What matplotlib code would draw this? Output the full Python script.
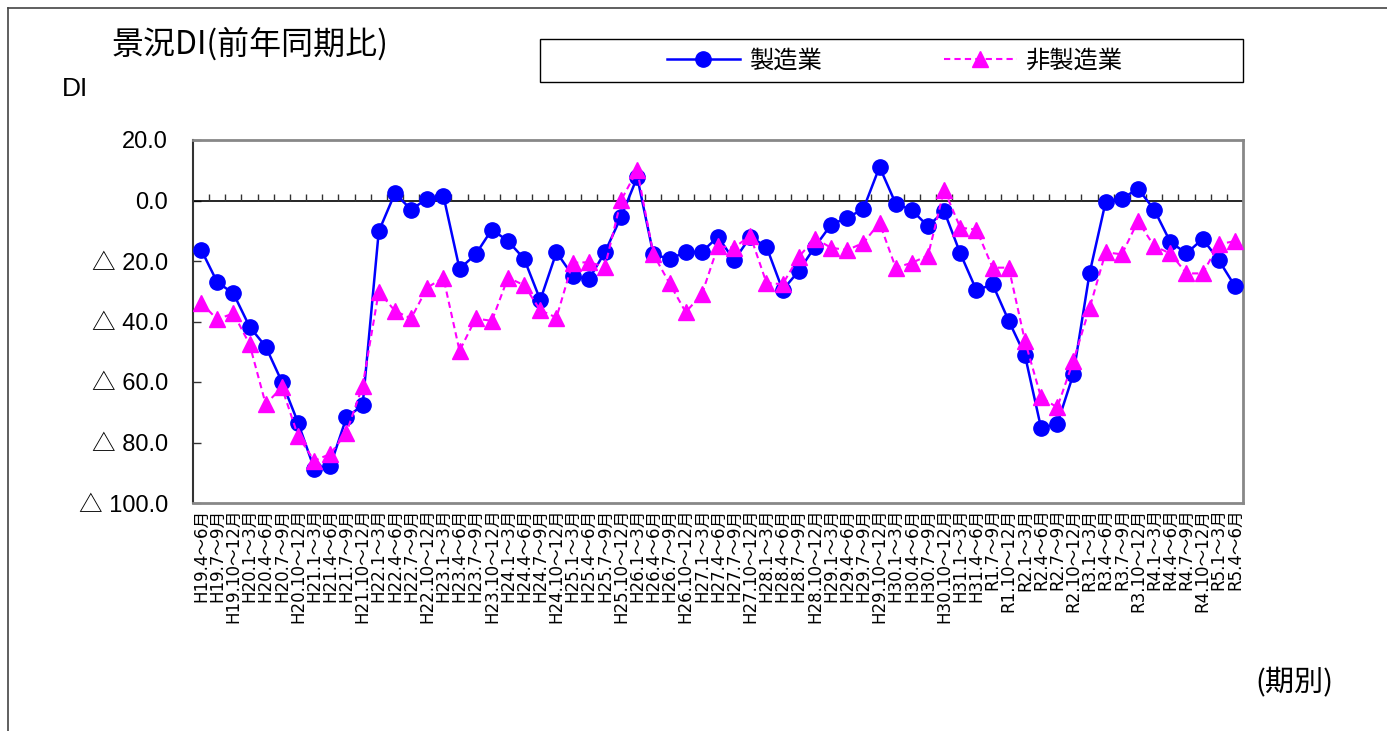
import matplotlib
matplotlib.use("Agg")
import matplotlib.pyplot as plt
from matplotlib.lines import Line2D
from matplotlib.patches import Rectangle
from matplotlib.ticker import FuncFormatter
import numpy as np

JP = ['Noto Sans CJK JP', 'DejaVu Sans']
NUM = ['Liberation Sans', 'Noto Sans CJK JP', 'DejaVu Sans']
TICK = ['DejaVu Sans', 'Noto Sans CJK JP']

# quarterly periods, H19.4-6 through R5.4-6
periods = [
    'H19.4～6月', 'H19.7～9月', 'H19.10～12月',
    'H20.1～3月', 'H20.4～6月', 'H20.7～9月', 'H20.10～12月',
    'H21.1～3月', 'H21.4～6月', 'H21.7～9月', 'H21.10～12月',
    'H22.1～3月', 'H22.4～6月', 'H22.7～9月', 'H22.10～12月',
    'H23.1～3月', 'H23.4～6月', 'H23.7～9月', 'H23.10～12月',
    'H24.1～3月', 'H24.4～6月', 'H24.7～9月', 'H24.10～12月',
    'H25.1～3月', 'H25.4～6月', 'H25.7～9月', 'H25.10～12月',
    'H26.1～3月', 'H26.4～6月', 'H26.7～9月', 'H26.10～12月',
    'H27.1～3月', 'H27.4～6月', 'H27.7～9月', 'H27.10～12月',
    'H28.1～3月', 'H28.4～6月', 'H28.7～9月', 'H28.10～12月',
    'H29.1～3月', 'H29.4～6月', 'H29.7～9月', 'H29.10～12月',
    'H30.1～3月', 'H30.4～6月', 'H30.7～9月', 'H30.10～12月',
    'H31.1～3月', 'H31.4～6月', 'R1.7～9月', 'R1.10～12月',
    'R2.1～3月', 'R2.4～6月', 'R2.7～9月', 'R2.10～12月',
    'R3.1～3月', 'R3.4～6月', 'R3.7～9月', 'R3.10～12月',
    'R4.1～3月', 'R4.4～6月', 'R4.7～9月', 'R4.10～12月',
    'R5.1～3月', 'R5.4～6月',
]

manufacturing = [
    -16.2, -27.0, -30.7, -41.7, -48.3, -59.9, -73.4, -88.6, -87.7, -71.7,
    -67.7, -10.2, 2.4, -3.0, 0.6, 1.6, -22.6, -17.8, -9.6, -13.4,
    -19.3, -32.9, -17.1, -24.8, -26.1, -17.1, -5.4, 7.7, -17.8, -19.3,
    -17.1, -17.0, -12.0, -19.8, -12.0, -15.3, -29.6, -23.3, -15.3, -8.0,
    -5.7, -2.8, 11.1, -1.0, -3.2, -8.5, -3.5, -17.5, -29.7, -27.7,
    -39.8, -51.1, -75.2, -73.9, -57.4, -24.1, -0.4, 0.6, 3.9, -3.0,
    -13.7, -17.5, -12.7, -19.7, -28.3,
]

non_manufacturing = [
    -33.8, -39.3, -37.3, -47.5, -67.3, -61.8, -77.8, -86.0, -83.8, -76.7,
    -61.3, -30.1, -36.5, -39.0, -28.8, -25.5, -49.7, -39.0, -39.8, -25.5,
    -28.0, -36.3, -38.7, -20.6, -20.4, -21.9, 0.1, 10.0, -17.8, -27.4,
    -36.9, -31.0, -15.1, -15.6, -11.6, -27.2, -27.7, -18.6, -12.6, -15.6,
    -16.4, -14.0, -7.4, -22.2, -20.6, -18.2, 3.6, -9.0, -9.6, -22.2,
    -22.2, -46.4, -65.1, -68.4, -53.0, -35.6, -17.1, -17.8, -6.8, -15.1,
    -17.5, -24.1, -24.1, -14.5, -13.4,
]

W, H = 1387, 731
fig = plt.figure(figsize=(W / 100, H / 100), dpi=100)


def px_rect(x0, y0, x1, y1):
    # pixel box (top-left origin) -> figure fraction rect
    return [x0 / W, 1 - y1 / H, (x1 - x0) / W, (y1 - y0) / H]


ax = fig.add_axes(px_rect(193, 140, 1243, 503))
x = np.arange(len(periods))

l1, = ax.plot(x, manufacturing, color='#0000ff', lw=1.8, marker='o', ms=11,
              zorder=3, label='製造業')
l2, = ax.plot(x, non_manufacturing, color='#ff00ff', lw=1.5, ls=(0, (3, 2)),
              marker='^', ms=11, zorder=4, label='非製造業')

ax.set_xlim(-0.5, len(periods) - 0.5)
ax.set_ylim(-100, 20)

# zero line with category ticks on it
ax.axhline(0, color='black', lw=1.2, zorder=2)
ax.vlines(x[:-1] + 0.5, 0, 2, color='#333333', lw=1, zorder=2)

ax.set_yticks(np.arange(-100, 21, 20))
ax.yaxis.set_major_formatter(FuncFormatter(
    lambda v, _: f'{abs(v):.1f}' if v >= 0 else f'△ {abs(v):.1f}'))
ax.tick_params(axis='y', direction='in', length=6, width=1, pad=18,
               labelsize=17, color='#333333')
for t in ax.get_yticklabels():
    t.set_fontfamily(NUM)

ax.set_xticks(x)
ax.set_xticklabels(periods, rotation=90, fontsize=12, family=TICK)
ax.tick_params(axis='x', length=0, pad=4)

for s in ['top', 'right', 'bottom']:
    ax.spines[s].set_color('#888888')
    ax.spines[s].set_linewidth(2)
ax.spines['left'].set_color('#333333')
ax.spines['left'].set_linewidth(1.5)

# legend box
fig.add_artist(Rectangle((540 / W, 1 - 82 / H), 703 / W, 43 / H, fill=False,
                         ec='black', lw=1, transform=fig.transFigure))
fig.legend([l1, l2], ['製造業', '非製造業'], loc='center',
           bbox_to_anchor=(895 / W, 1 - 61 / H), ncol=2, frameon=False,
           prop=dict(family=JP, size=17.5), handlelength=3.0,
           columnspacing=5.0, handletextpad=0.4)

# outer frame
fig.add_artist(Line2D([8 / W, 8 / W], [0, 1 - 8 / H], color='#444444', lw=1.2))
fig.add_artist(Line2D([8 / W, 1], [1 - 8 / H, 1 - 8 / H], color='#444444', lw=1.2))

fig.text(112 / W, 1 - 44 / H, '景況DI(前年同期比)', fontsize=23, family=JP,
         va='center')
fig.text(62 / W, 1 - 89 / H, 'DI', fontsize=19, family=NUM, va='center')
fig.text(1255 / W, 1 - 683 / H, '(期別)', fontsize=21, family=JP, va='center')

fig.savefig('out.png', dpi=100)
